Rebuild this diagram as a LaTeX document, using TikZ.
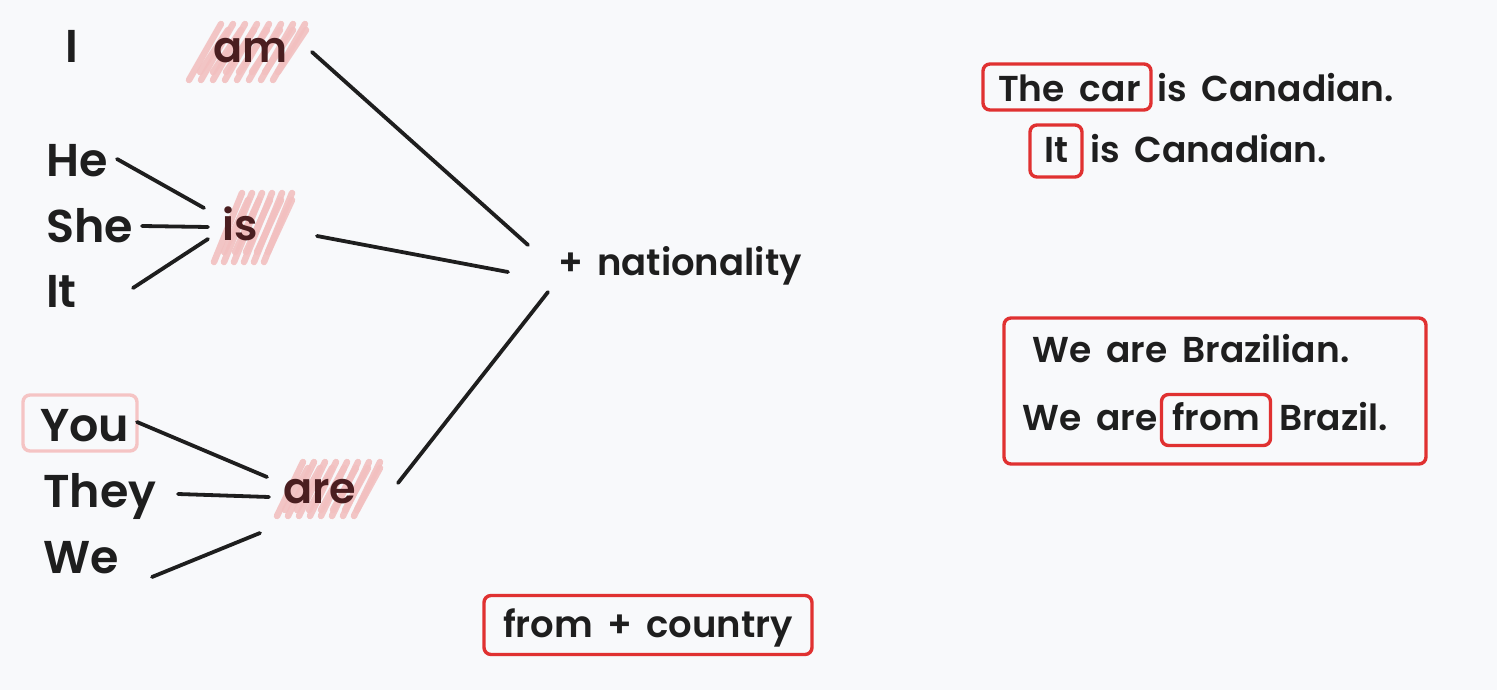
\documentclass[tikz,border=0pt]{standalone}
\usepackage{fontspec}
\setmainfont{Poppins}[BoldFont={Poppins SemiBold}]
\definecolor{bg}{HTML}{F8F9FB}
\definecolor{ink}{HTML}{1E1E1E}
\definecolor{redb}{HTML}{E03131}
\definecolor{pinkb}{HTML}{F5C4C4}
\definecolor{hatchc}{HTML}{F2C0C0}
\definecolor{maroon}{HTML}{4A1E20}
\newcommand\midfnt{\fontsize{37}{37}\selectfont\bfseries\spaceskip=14pt\relax}
\newcommand\sentfnt{\fontsize{36}{36}\selectfont\bfseries\spaceskip=15pt\relax}
\tikzset{
  word/.style={anchor=base west, inner sep=0pt, text=ink},
  pron/.style={word, font=\fontsize{46}{46}\selectfont\bfseries},
  verb/.style={word, text=maroon, font=\fontsize{43}{43}\selectfont\bfseries},
  mid/.style={word, font=\midfnt},
  sent/.style={word, font=\sentfnt},
  conn/.style={draw=ink, line width=3.8pt, line cap=round},
  redbox/.style={draw=redb, line width=3.4pt, rounded corners=7pt, inner sep=0pt},
  pinkbox/.style={draw=pinkb, line width=3.4pt, rounded corners=7pt, inner sep=0pt},
  hatchline/.style={draw=hatchc, line width=6.5pt, line cap=round, opacity=0.9},
}
\begin{document}
\begin{tikzpicture}[x=1pt,y=-1pt]
\fill[bg] (0,0) rectangle (1497,690);
\useasboundingbox (0,0) rectangle (1497,690);
% hatch fills
\foreach \i in {0,...,7} \draw[hatchline] ({189+\i*12},80) -- ({221+\i*12},24);
\foreach \i in {0,...,6} \draw[hatchline] ({200+\i*13},72) -- ({228+\i*13},30);
\foreach \i in {0,...,5} \draw[hatchline] ({214+\i*10},262) -- ({242+\i*10},193);
\foreach \i in {0,...,4} \draw[hatchline] ({224+\i*11},252) -- ({248+\i*11},200);
\foreach \i in {0,...,7} \draw[hatchline] ({277+\i*11},516) -- ({303+\i*11},462);
\foreach \i in {0,...,6} \draw[hatchline] ({285+\i*12},510) -- ({308+\i*12},468);
% pronouns
\node[pron] (I) at (65,63) {I};
\node[pron] (He) at (46,177) {He};
\node[pron] (She) at (46,242) {She};
\node[pron] (It) at (46,307) {It};
\node[pron] (You) at (40,441) {You};
\node[pron] (They) at (43,507) {They};
\node[pron] (We) at (43,573) {We};
\node[pinkbox, minimum width=114pt, minimum height=56pt] (youbox) at (80,423) {};
% verbs
\node[verb] (am) at (213,63) {am};
\node[verb] (is) at (222,240) {is};
\node[verb] (are) at (283,503) {are};
% middle
\node[mid] (nat) at (558,275) {+ nationality};
\node[redbox, minimum width=328pt, minimum height=59pt] (fcbox) at (648,625) {};
\node[mid] (fc) at (503,637) {from + country};
% right top
\node[redbox, minimum width=168pt, minimum height=46pt] (carbox) at (1067,87) {};
\node[sent] (car) at (998,102) {The car};
\node[sent] (car2) at (1157,102) {is Canadian.};
\node[redbox, minimum width=52pt, minimum height=52pt] (itbox) at (1056,151) {};
\node[sent] (it) at (1044,163) {It};
\node[sent] (it2) at (1090,163) {is Canadian.};
% right bottom
\node[redbox, minimum width=422pt, minimum height=146pt] (bigbox) at (1215,391) {};
\node[sent] (bra1) at (1032,362) {We are Brazilian.};
\node[sent] (bra2) at (1022,430) {We are};
\node[redbox, minimum width=109pt, minimum height=51pt] (frombox) at (1216,420) {};
\node[sent] (bra3) at (1172,430) {from};
\node[sent] (bra4) at (1279,430) {Brazil.};
% connector end points
\coordinate (amR) at (312,52);
\coordinate (natA) at (528,245);
\coordinate (isR) at (317,236);
\coordinate (natB) at (508,272);
\coordinate (natC) at (548,292);
\coordinate (areR) at (398,483);
\coordinate (HeR) at (117,159);
\coordinate (isA) at (204,208);
\coordinate (SheR) at (142,226);
\coordinate (isB) at (208,227);
\coordinate (ItR) at (133,288);
\coordinate (isC) at (208,239);
\coordinate (YouR) at (137,422);
\coordinate (areA) at (267,477);
\coordinate (TheyR) at (178,494);
\coordinate (areB) at (269,497);
\coordinate (WeR) at (152,577);
\coordinate (areC) at (260,533);
% connectors
\draw[conn] (amR) -- (natA);
\draw[conn] (isR) -- (natB);
\draw[conn] (areR) -- (natC);
\draw[conn] (HeR) -- (isA);
\draw[conn] (SheR) -- (isB);
\draw[conn] (ItR) -- (isC);
\draw[conn] (YouR) -- (areA);
\draw[conn] (TheyR) -- (areB);
\draw[conn] (WeR) -- (areC);
\end{tikzpicture}
\end{document}
